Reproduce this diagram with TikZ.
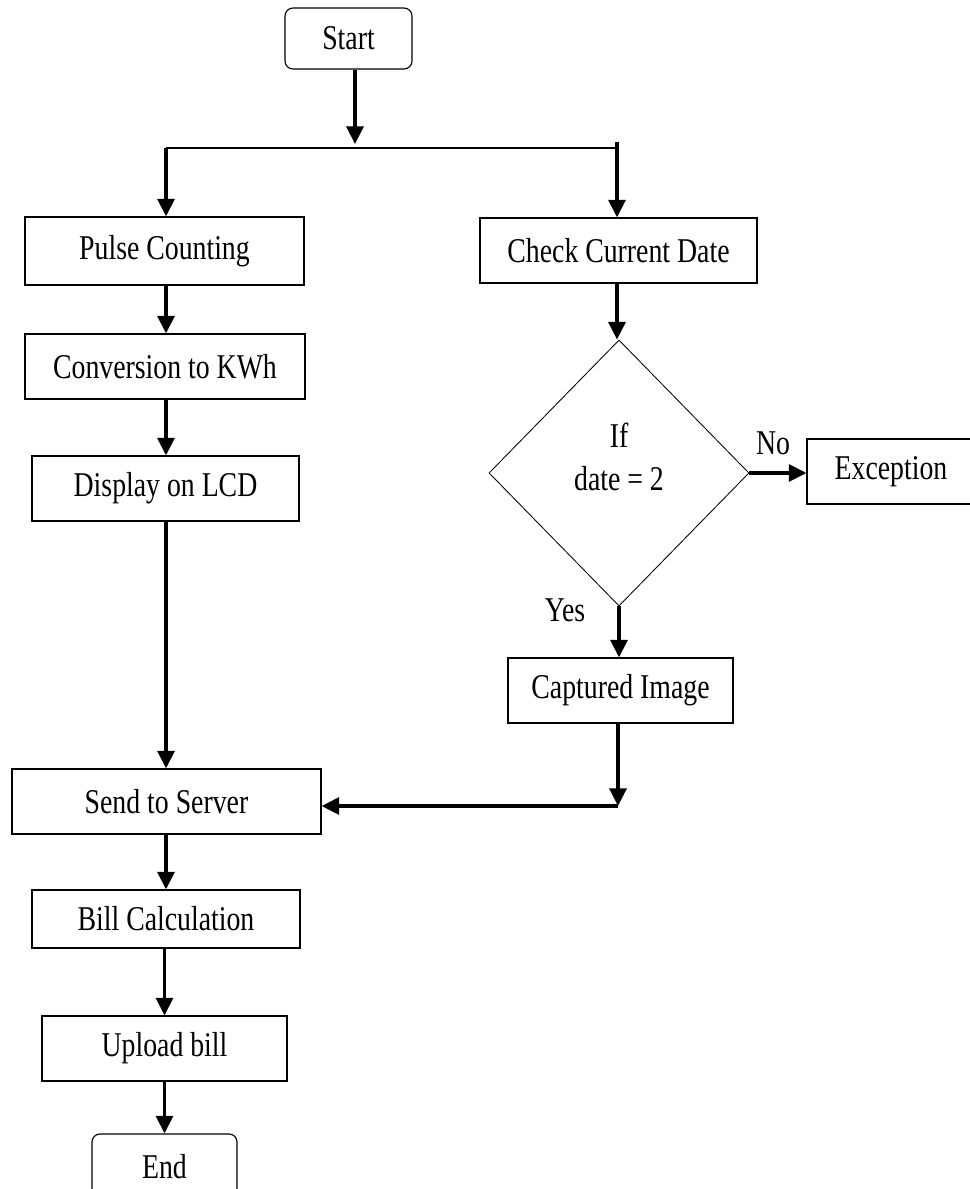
\documentclass[tikz,border=0pt]{standalone}
\usepackage{fontspec}
\setmainfont[FakeStretch=0.8]{Liberation Serif}
\usetikzlibrary{arrows.meta, shapes.geometric}

\begin{document}
\begin{tikzpicture}[
    x=0.025cm, y=-0.025cm,
    font=\fontsize{24.7}{30}\selectfont,
    block/.style={draw, rectangle, line width=0.8pt, minimum height=1.625cm, align=center, inner sep=0pt},
    term/.style={block, rounded corners=0.2cm},
    decision/.style={draw, diamond, line width=0.6pt, minimum width=6.5cm, minimum height=6.65cm, inner sep=0pt},
    arrow/.style={-{Triangle[length=12.5pt, width=12pt]}, line width=2.5pt},
    line/.style={line width=1pt}
]
\useasboundingbox (0,0) rectangle (969,1189);

% Start and split
\node[term, minimum width=3.175cm, minimum height=1.525cm] (start) at (348.5,38.5) {Start};
\coordinate (split) at (355,144);
\coordinate (splitL) at (166,148);
\coordinate (splitR) at (617,148);
\coordinate (splitRtop) at (617,142);
\coordinate (col) at (166,0);

% Left branch
\node[block, minimum width=6.975cm, minimum height=1.7cm] (pulse) at (164.5,251) {Pulse Counting};
\node[block, minimum width=7.0cm] (conv) at (165,366.5) {Conversion to KWh};
\node[block, minimum width=6.675cm] (lcd) at (165.5,488.5) {Display on LCD};
\node[block, minimum width=7.725cm] (send) at (166.5,801.5) {Send to Server};
\node[block, minimum width=6.7cm, minimum height=1.45cm] (bill) at (166,919) {Bill Calculation};
\node[block, minimum width=6.125cm] (upload) at (164.5,1048.5) {Upload bill};
\node[term, minimum width=3.625cm] (end) at (164.5,1166.5) {End};

% Right branch
\node[block, minimum width=6.925cm] (date) at (618.5,250.5) {Check Current Date};
\node[decision, label={[align=center, yshift=0.4cm]center:{If\\date = 2}}] (cond) at (619,473) {};
\node[block, minimum width=4.2cm] (exc) at (891,471.5) {Exception};
\node[block, minimum width=5.625cm] (capt) at (620.5,690.5) {Captured Image};
\coordinate (join) at (618,806);

% Arrows: split
\draw[arrow] (start.south -| split) -- (split);
\draw[line] (splitL) -- (splitR);
\draw[arrow] (splitL) -- (pulse.north -| splitL);
\draw[arrow] (splitRtop) -- (date.north -| splitR);

% Arrows: left branch
\draw[arrow] (pulse.south -| col) -- (conv.north -| col);
\draw[arrow] (conv.south -| col) -- (lcd.north -| col);
\draw[arrow] (lcd.south -| col) -- (send.north -| col);
\draw[arrow] (send.south -| col) -- (bill.north -| col);
\draw[arrow] (bill.south -| upload) -- (upload.north);
\draw[arrow] (upload) -- (end);

% Arrows: right branch
\draw[arrow] (date.south -| splitR) -- (cond.north -| splitR);
\draw[arrow] (cond.east) -- node[midway, above=0.4cm, xshift=-0.12cm, inner sep=0pt] {No} (exc.west |- cond.east);
\draw[arrow] (cond.south) -- node[at start, left=0.8cm, yshift=-0.1cm, inner sep=0pt] {Yes} (capt.north -| cond.south);
\draw[arrow] (capt.south -| join) -- (join);
\draw[arrow] (join) -- (join -| send.east);

\end{tikzpicture}
\end{document}
